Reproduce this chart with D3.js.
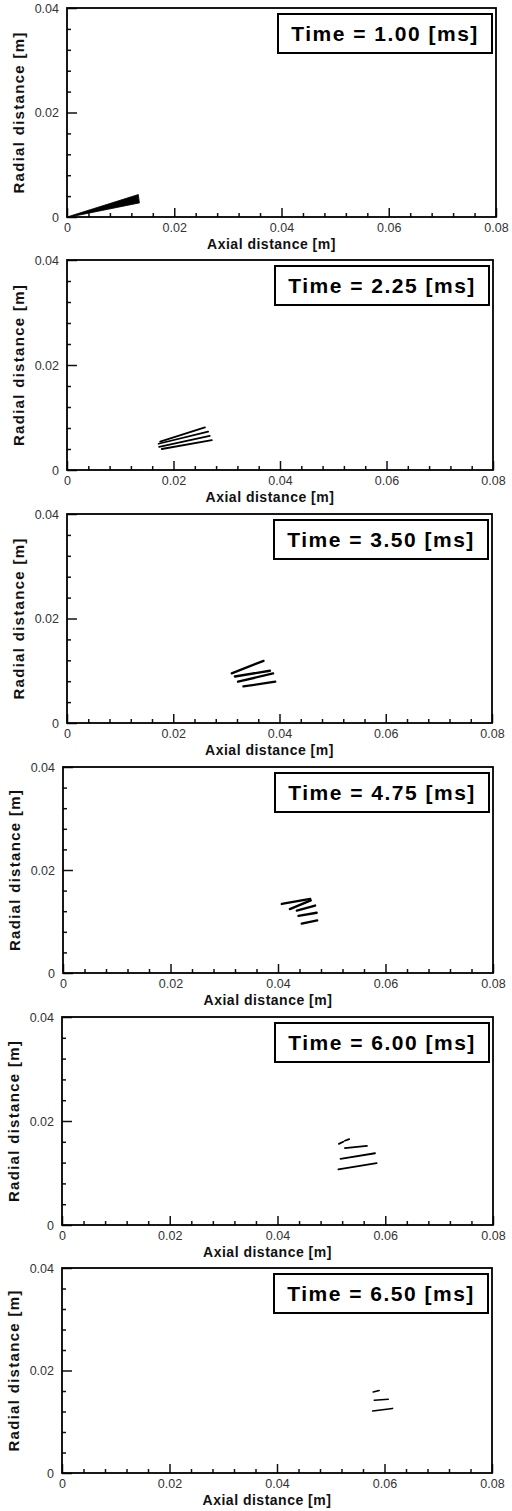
<!DOCTYPE html>
<html><head><meta charset="utf-8">
<script src="https://cdn.jsdelivr.net/npm/d3@7"></script>
<style>body{margin:0;background:#fff}svg{display:block}</style>
</head><body>
<script>
// ---- data ----
const times = ["1.00", "2.25", "3.50", "4.75", "6.00", "6.50"];
const xTicks = [0, 0.02, 0.04, 0.06, 0.08];
const xTickLabels = ["0", "0.02", "0.04", "0.06", "0.08"];
const yTicks = [0, 0.02, 0.04];
const yTickLabels = ["0", "0.02", "0.04"];
const xMinor = [0.004,0.008,0.012,0.016,0.024,0.028,0.032,0.036,0.044,0.048,0.052,0.056,0.064,0.068,0.072,0.076];
const yMinor = [0.004,0.008,0.012,0.016,0.024,0.028,0.032,0.036];
const xTitle = "Axial distance [m]";
const yTitle = "Radial distance [m]";
// spray at t=1.00 ms : solid wedge from nozzle
const spray100 = [[0, 0], [0.0133, 0.0043], [0.0135, 0.0027], [0.0005, 0]];
// spray parcels (streak start -> end) for the other times
const spray225 = [
  [[0.0175, 0.0054], [0.0259, 0.0081]],
  [[0.0172, 0.0050], [0.0265, 0.0073]],
  [[0.0173, 0.0044], [0.0268, 0.0065]],
  [[0.0178, 0.0040], [0.0272, 0.0057]]
];
const spray350 = [
  [[0.0310, 0.0095], [0.0370, 0.0119]],
  [[0.0316, 0.0089], [0.0382, 0.0100]],
  [[0.0322, 0.0079], [0.0388, 0.0095]],
  [[0.0332, 0.0070], [0.0392, 0.0079]]
];
const spray475 = [
  [[0.0407, 0.0134], [0.0460, 0.0144]],
  [[0.0422, 0.0124], [0.0461, 0.0141]],
  [[0.0435, 0.0121], [0.0469, 0.0131]],
  [[0.0438, 0.0111], [0.0472, 0.0117]],
  [[0.0444, 0.0096], [0.0473, 0.0102]]
];
const spray600 = [
  [[0.0514, 0.0156], [0.0522, 0.0160]],
  [[0.0525, 0.0162], [0.0533, 0.0165]],
  [[0.0525, 0.0148], [0.0566, 0.0152]],
  [[0.0517, 0.0127], [0.0581, 0.0138]],
  [[0.0513, 0.0107], [0.0584, 0.0119]]
];
const spray650 = [
  [[0.0579, 0.0158], [0.0590, 0.0161]],
  [[0.0581, 0.0142], [0.0607, 0.0144]],
  [[0.0578, 0.0121], [0.0615, 0.0126]]
];
const sprays = [spray100, spray225, spray350, spray475, spray600, spray650];

// ---- layout (positions / styles) ----
const layout = [
  {top: 8,    bottom: 217,  left: 67, right: 496},
  {top: 260,  bottom: 470,  left: 67, right: 493},
  {top: 514,  bottom: 723,  left: 67, right: 492},
  {top: 767,  bottom: 973,  left: 63, right: 493},
  {top: 1017, bottom: 1225, left: 62, right: 493},
  {top: 1268, bottom: 1473, left: 62, right: 492}
];
const streakWidth = [0, 1.8, 2.3, 2.3, 1.8, 1.6];
const FONT = "Arial, 'Liberation Sans', sans-serif";

const svg = d3.select("body").append("svg").attr("width", 512).attr("height", 1511);

layout.forEach((L, i) => {
  const x = d3.scaleLinear().domain([0, 0.08]).range([L.left, L.right]);
  const y = d3.scaleLinear().domain([0, 0.04]).range([L.bottom, L.top]);
  const g = svg.append("g");

  // spray
  if (i === 0) {
    g.append("path").attr("d", d3.line().x(d => x(d[0])).y(d => y(d[1]))(spray100) + "Z")
      .attr("fill", "#000").attr("stroke", "#000").attr("stroke-width", 0.8);
  } else {
    g.selectAll("line.s").data(sprays[i]).join("line")
      .attr("x1", d => x(d[0][0])).attr("y1", d => y(d[0][1]))
      .attr("x2", d => x(d[1][0])).attr("y2", d => y(d[1][1]))
      .attr("stroke", "#000").attr("stroke-width", streakWidth[i]).attr("stroke-linecap", "round");
  }

  // bottom axis (inward ticks)
  const xAx = d3.axisBottom(x).tickValues(xTicks).tickSize(-9).tickFormat((d, k) => xTickLabels[k]).tickPadding(6);
  g.append("g").attr("transform", `translate(0,${L.bottom})`).call(xAx);
  const xAxMinor = d3.axisBottom(x).tickValues(xMinor).tickSize(-4).tickFormat("");
  g.append("g").attr("transform", `translate(0,${L.bottom})`).call(xAxMinor);

  const yAx = d3.axisLeft(y).tickValues(yTicks).tickSize(-10).tickFormat((d, k) => yTickLabels[k]).tickPadding(8);
  g.append("g").attr("transform", `translate(${L.left},0)`).call(yAx);
  const yAxMinor = d3.axisLeft(y).tickValues(yMinor).tickSize(-4).tickFormat("");
  g.append("g").attr("transform", `translate(${L.left},0)`).call(yAxMinor);

  g.selectAll(".domain").remove();
  g.selectAll(".tick line").attr("stroke", "#111").attr("stroke-width", 1.5);
  g.selectAll(".tick text").attr("font-family", FONT)
    .attr("font-size", 12.5).attr("fill", "#333");

  // frame
  g.append("rect").attr("x", L.left).attr("y", L.top)
    .attr("width", L.right - L.left).attr("height", L.bottom - L.top)
    .attr("fill", "none").attr("stroke", "#000").attr("stroke-width", 1.8);

  // axis titles
  g.append("text").attr("x", (L.left + L.right) / 2 - 10).attr("y", L.bottom + 32)
    .attr("text-anchor", "middle").attr("font-family", FONT)
    .attr("font-weight", "bold").attr("font-size", 14).attr("letter-spacing", 0.5)
    .attr("fill", "#111").text(xTitle);
  g.append("text")
    .attr("transform", `translate(${L.left - 43},${(L.top + L.bottom) / 2}) rotate(-90)`)
    .attr("text-anchor", "middle").attr("font-family", FONT)
    .attr("font-weight", "bold").attr("font-size", 15).attr("letter-spacing", 1.3)
    .attr("fill", "#111").text(yTitle);

  // time box
  const bw = 214, bh = 39;
  const bx = L.right - 4 - bw, by = L.top + 6;
  g.append("rect").attr("x", bx).attr("y", by).attr("width", bw).attr("height", bh)
    .attr("fill", "#fff").attr("stroke", "#000").attr("stroke-width", 2);
  g.append("text").attr("x", bx + bw / 2).attr("y", by + bh / 2 + 7.5)
    .attr("text-anchor", "middle").attr("font-family", FONT)
    .attr("font-weight", "bold").attr("font-size", 21).attr("letter-spacing", 1.5)
    .attr("fill", "#000").text(`Time = ${times[i]} [ms]`);
});
</script>
</body></html>
